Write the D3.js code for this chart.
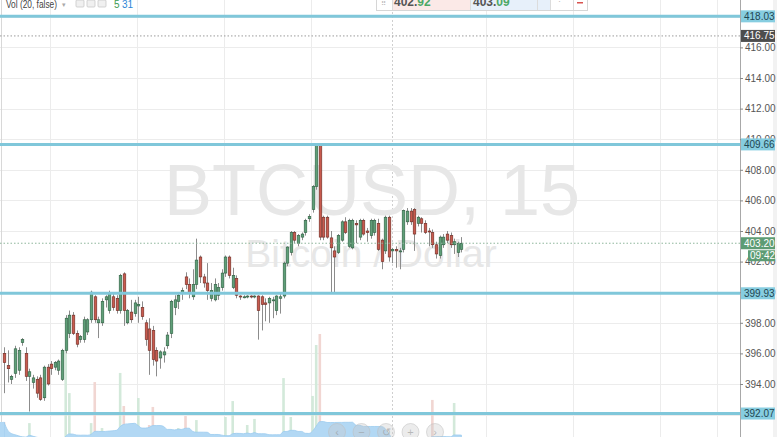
<!DOCTYPE html>
<html><head><meta charset="utf-8">
<script src="https://cdn.jsdelivr.net/npm/d3@7"></script>
<style>
body{margin:0;background:#fff;overflow:hidden}
svg{display:block;font-family:"Liberation Sans",Arial,sans-serif}
</style></head>
<body><svg id="c" width="777" height="437"></svg>
<script>
// ---- data (BTCUSD, 15 min) ----
const opens  = [396.0,395.2,394.3,394.7,394.9,396.7,396.0,394.5,394.1,394.3,394.4,393.1,395.1,395.3,395.1,394.9,394.3,396.2,397.3,398.5,397.3,396.9,396.9,397.4,398.2,399.7,398.0,398.0,399.5,398.8,399.7,399.6,398.8,401.2,398.0,398.7,398.6,399.1,399.0,398.0,397.6,397.5,396.2,395.7,395.9,396.5,397.3,399.0,399.4,399.9,401.0,400.5,399.7,400.5,402.3,401.0,400.6,399.6,399.5,399.8,400.3,401.25,402.3,400.3,400.9,399.75,399.7,399.7,399.75,399.7,399.75,399.7,399.3,399.3,399.5,398.8,399.6,399.75,401.9,402.6,403.9,403.2,403.6,403.9,404.8,405.4,406.9,409.6,404.9,404.9,403.55,402.7,402.6,403.4,404.6,403.0,402.9,404.5,403.6,404.7,404.0,403.7,403.9,404.5,403.4,402.7,404.9,402.7,402.8,402.7,402.8,404.6,405.3,405.4,404.5,404.8,404.5,404.0,403.9,403.1,402.4,403.1,403.8,403.7,403.1,402.6,402.8];
const highs  = [396.4,396.2,394.6,396.5,396.4,397.0,396.4,395.0,394.6,394.5,394.6,395.2,395.3,395.5,395.5,395.6,396.3,398.5,398.8,398.7,397.5,397.2,398.4,398.3,400.1,399.8,398.4,399.6,399.8,400.1,399.9,399.8,401.2,401.3,398.9,399.5,399.5,399.7,399.4,398.2,398.3,397.8,396.4,396.2,396.4,397.4,399.5,399.8,400.0,400.3,401.3,400.9,401.5,403.5,402.4,401.2,401.9,400.6,400.9,400.6,401.5,402.4,402.4,401.6,401.1,399.8,399.8,399.8,399.8,399.8,399.8,399.8,399.6,399.7,399.7,399.8,399.9,402.0,403.0,404.0,404.0,403.8,403.9,404.8,405.1,407.0,409.66,409.66,405.0,405.0,404.0,403.0,403.8,404.7,404.9,404.8,404.8,404.7,404.8,404.8,404.2,404.8,404.8,404.8,403.5,405.0,405.0,402.9,403.0,402.9,405.4,405.5,405.5,405.5,405.0,404.9,404.7,404.2,404.1,403.3,403.7,403.8,404.0,403.9,403.5,403.3,403.6];
const lows   = [393.4,394.1,394.0,394.4,394.6,396.5,394.2,392.2,393.7,393.1,392.9,392.9,393.9,394.6,394.9,394.6,394.2,396.0,397.0,397.2,396.4,396.7,396.7,397.2,398.0,398.0,397.0,397.8,399.0,398.6,398.8,398.6,398.6,397.8,397.9,398.0,398.4,398.0,398.2,396.5,394.6,395.2,394.5,395.0,395.4,396.3,397.0,398.5,398.9,399.5,400.2,399.6,399.5,400.2,400.6,400.3,399.5,399.4,399.4,399.5,400.1,401.0,400.9,400.2,399.6,399.5,399.6,399.6,399.6,399.6,396.9,397.5,398.1,398.0,398.3,398.5,398.6,399.6,401.7,402.4,403.2,403.0,403.4,403.7,404.6,405.2,406.7,403.4,403.4,403.5,399.95,399.95,402.5,403.3,403.8,402.9,402.8,403.2,403.4,403.7,403.3,403.5,403.7,402.7,401.5,402.5,402.0,401.9,401.6,401.5,402.6,404.4,404.4,402.7,404.3,403.9,403.8,403.0,402.9,402.2,402.2,402.9,403.2,402.9,402.5,402.3,402.6];
const closes = [395.4,395.0,394.5,396.3,396.2,396.9,394.5,394.8,394.4,393.4,393.0,395.1,394.0,395.0,395.4,395.5,396.2,398.3,398.5,397.3,396.6,397.1,398.2,398.2,400.0,398.2,398.2,399.4,399.7,399.95,399.0,398.8,401.1,398.8,398.8,398.2,399.3,399.2,398.4,396.9,396.2,395.6,395.5,396.1,396.1,397.2,399.4,399.5,399.8,400.1,400.5,399.95,400.5,402.1,401.0,400.6,400.1,400.1,400.5,400.3,401.25,402.3,401.1,401.1,399.8,399.7,399.7,399.75,399.7,399.75,398.8,399.2,399.2,399.6,399.5,399.75,399.7,401.9,402.95,403.9,403.4,403.7,403.8,404.7,404.95,406.9,409.6,403.6,403.6,403.6,402.9,402.3,403.7,404.6,403.9,404.7,404.7,404.4,404.7,403.8,403.9,404.7,404.7,402.8,402.0,404.9,402.3,402.8,402.7,402.7,405.35,405.3,404.6,403.8,404.9,404.5,403.9,403.95,403.1,402.5,403.6,403.6,403.4,403.1,403.3,403.2,403.2];
const volumes= [51.6,43,42,43,42,41,43,51,40,39,
                39,38,38,37,38,39,40,89.5,66.8,43,
                42,41,43,42,51,72.6,43,48.4,42,43,
                42,43,77.4,60,43,42,43,64.2,42,43,
                50,59.5,43,42,41,42,43,43,48.4,42,
                54.7,43,43,52.6,43,42,42,41,42,43,
                43,54.2,43,62.6,44.7,41,40,50,42,53.2,
                43,43,42,43,42,43,42,74.7,43,54.2,
                43,43,43,43,43,65.3,92.1,97.9,43,43,
                43,43,43,43,43,43,43,42,43,43,
                42,43,43,43,43,43,43,43,42,43,
                43,43,43,43,43,43,42,43,63.2,43,
                43,43,42,42,61.6,43,42];
const priceTicks = [394,396,398,400,402,404,406,408,410,412,414,416];
const levels = [418.03, 409.66, 399.93, 392.07];
const lastPrice = 403.20, lastTime = "09:42";
const dayHigh = 416.75;
const gridIdx = [12.67, 36.67, 60.67, 84.67, 132.67, 156.67, 180.67, 196.4];
const sessionIdx = [107.6];
const bidAsk = [["402.", "92"], ["403.", "09"]];

// ---- scales ----
const W = 777, H = 437, axisX = 740;
const svg = d3.select("#c");
const x = d3.scaleLinear().domain([0, opens.length - 1]).range([4, 461.4]);
const y = d3.scaleLinear().domain([404 - 206/15.3, 404 + 231/15.3]).range([H, 0]);
const yv = d3.scaleLinear().domain([0, 100]).range([520, 330]);
const candles = opens.map((o, i) => ({i, o, h: highs[i], l: lows[i], c: closes[i], v: volumes[i], up: closes[i] >= o}));

svg.append("rect").attr("width", W).attr("height", H).attr("fill", "#fff");

// grid
const g = svg.append("g");
g.selectAll(".hg").data(priceTicks.concat([392, 418])).join("line")
  .attr("x1", 0).attr("x2", axisX).attr("y1", d => Math.round(y(d)) + 0.5).attr("y2", d => Math.round(y(d)) + 0.5)
  .attr("stroke", "#ececec");
g.selectAll(".vg").data(gridIdx).join("line")
  .attr("x1", d => Math.round(x(d)) + 0.5).attr("x2", d => Math.round(x(d)) + 0.5).attr("y1", 0).attr("y2", H)
  .attr("stroke", "#ececec");
g.selectAll(".sg").data(sessionIdx).join("line")
  .attr("x1", d => Math.round(x(d)) - 2.5).attr("x2", d => Math.round(x(d)) - 2.5).attr("y1", 0).attr("y2", H)
  .attr("stroke", "#cfcfcf").attr("stroke-dasharray", "2,2");
svg.append("line").attr("x1", 1.5).attr("x2", 1.5).attr("y1", 0).attr("y2", H).attr("stroke", "#d8d8d8");

// watermark
svg.append("text").attr("x", 372).attr("y", 215).attr("text-anchor", "middle")
  .attr("font-size", 72).attr("fill", "#e7e7e7").text("BTCUSD, 15");
svg.append("text").attr("x", 371).attr("y", 267).attr("text-anchor", "middle")
  .attr("font-size", 39).attr("fill", "#e7e7e7").text("Bitcoin / Dollar");

// volume bars
const bw = 2.6;
svg.append("g").selectAll("rect").data(candles).join("rect")
  .attr("x", d => x(d.i) - bw/2).attr("width", bw)
  .attr("y", d => yv(d.v)).attr("height", d => yv(0) - yv(d.v))
  .attr("fill", d => d.up ? "#d3e9da" : "#f1d6d2");

// volume MA(20) area
const ma = candles.map((d, i) => {
  const w = volumes.slice(Math.max(0, i - 19), i + 1);
  return {i, m: d3.mean(w)};
});
svg.append("path").datum(ma)
  .attr("d", d3.area().x(d => x(d.i)).y0(H + 5).y1(d => yv(d.m)).curve(d3.curveMonotoneX))
  .attr("fill", "#b2d8f4").attr("stroke", "#9ccbef").attr("stroke-width", 0.8);
svg.append("rect").attr("x", 0).attr("width", x(0)).attr("y", yv(ma[0].m)).attr("height", H)
  .attr("fill", "#b2d8f4");

// candles
const cg = svg.append("g");
cg.selectAll("line").data(candles).join("line")
  .attr("x1", d => Math.round(x(d.i)) + 0.5).attr("x2", d => Math.round(x(d.i)) + 0.5)
  .attr("y1", d => y(d.h)).attr("y2", d => y(d.l))
  .attr("stroke", "#8c8c8c").attr("stroke-width", 1);
cg.selectAll("rect").data(candles).join("rect")
  .attr("x", d => Math.round(x(d.i)) + 0.5 - bw/2).attr("width", bw)
  .attr("y", d => y(Math.max(d.o, d.c)))
  .attr("height", d => Math.max(1, Math.abs(y(d.o) - y(d.c))))
  .attr("fill", d => d.up ? "#5f9f78" : "#c85a4e")
  .attr("stroke", d => d.up ? "#2c5e40" : "#6c2a22").attr("stroke-width", 0.6);

// dotted price lines
svg.append("line").attr("x1", 0).attr("x2", axisX).attr("y1", y(dayHigh)).attr("y2", y(dayHigh))
  .attr("stroke", "#9a9a9a").attr("stroke-dasharray", "1.5,2");
svg.append("line").attr("x1", 0).attr("x2", axisX).attr("y1", y(lastPrice)).attr("y2", y(lastPrice))
  .attr("stroke", "#8fb69c").attr("stroke-dasharray", "1.5,2");

// support / resistance levels
svg.append("g").selectAll("line").data(levels).join("line")
  .attr("x1", 0).attr("x2", axisX).attr("y1", d => y(d)).attr("y2", d => y(d))
  .attr("stroke", "#80c7da").attr("stroke-width", 3);

// price axis
const ax = svg.append("g");
ax.append("rect").attr("x", axisX).attr("y", 0).attr("width", W - axisX).attr("height", H).attr("fill", "#fff");
ax.append("line").attr("x1", axisX + 0.5).attr("x2", axisX + 0.5).attr("y1", 0).attr("y2", H).attr("stroke", "#a8a8a8");
ax.append("rect").attr("x", 773).attr("y", 0).attr("width", 4).attr("height", H).attr("fill", "#f2f2f2");
const axis = d3.axisRight(y).tickValues(priceTicks).tickSize(3).tickPadding(2).tickFormat(d3.format(".2f"));
const axG = ax.append("g").attr("transform", `translate(${axisX},0)`).call(axis);
axG.select(".domain").remove();
axG.selectAll(".tick line").attr("stroke", "#888");
axG.selectAll(".tick text").attr("fill", "#555").attr("font-size", 10)
  .attr("font-family", "Liberation Sans, Arial, sans-serif");

function tag(v, label, fill, color, x0) {
  const yy = y(v);
  ax.append("rect").attr("x", x0).attr("y", yy - 6).attr("width", 775 - x0).attr("height", 12).attr("fill", fill);
  ax.append("text").attr("x", x0 + 3).attr("y", yy + 3.5).attr("font-size", 10).attr("fill", color).text(label);
}
levels.forEach(v => tag(v, d3.format(".2f")(v), "#86cde0", "#1f4652", 741));
tag(dayHigh, d3.format(".2f")(dayHigh), "#4d4d4d", "#fff", 741);
tag(lastPrice, d3.format(".2f")(lastPrice), "#5d9c74", "#fff", 741);
ax.append("rect").attr("x", 748).attr("y", y(lastPrice) + 7).attr("width", 27).attr("height", 11).attr("fill", "#5d9c74");
ax.append("text").attr("x", 750).attr("y", y(lastPrice) + 16).attr("font-size", 10).attr("fill", "#fff").text(lastTime);

// header (volume legend)
const hd = svg.append("g").attr("font-size", 10);
hd.append("text").attr("x", 6).attr("y", 8).attr("fill", "#444")
  .attr("textLength", 51).attr("lengthAdjust", "spacingAndGlyphs").text("Vol (20, false)");
hd.append("text").attr("x", 62).attr("y", 7).attr("fill", "#aaa").attr("font-size", 7).text("▾");
[76, 87, 98].forEach(px => hd.append("rect").attr("x", px).attr("y", 0).attr("width", 8).attr("height", 7)
  .attr("rx", 1).attr("fill", "#f0f0f0").attr("stroke", "#c8c8c8").attr("stroke-width", 0.8));
hd.append("text").attr("x", 114).attr("y", 8).attr("fill", "#3d9a4f").text("5");
hd.append("text").attr("x", 122).attr("y", 8).attr("fill", "#2e86d6").text("31");

// buy/sell box
const bx = svg.append("g");
bx.append("rect").attr("x", 376.5).attr("y", -10).attr("width", 211).attr("height", 20.5).attr("fill", "#fff").attr("stroke", "#d6d6d6");
bx.append("rect").attr("x", 392).attr("y", -9).attr("width", 78).attr("height", 19).attr("fill", "#fbe9e7");
bx.append("rect").attr("x", 470).attr("y", -9).attr("width", 80).attr("height", 19).attr("fill", "#e7f0fa");
[392, 470, 537, 550, 573].forEach(px => bx.append("line").attr("x1", px + 0.5).attr("x2", px + 0.5).attr("y1", -9).attr("y2", 10).attr("stroke", "#dcdcdc"));
bx.append("text").attr("x", 381).attr("y", 6).attr("font-size", 7).attr("fill", "#bbb").text("⠿");
[[394, bidAsk[0]], [473, bidAsk[1]]].forEach(([px, p]) => {
  const t = bx.append("text").attr("x", px).attr("y", 6).attr("font-size", 12).attr("font-weight", "bold");
  t.append("tspan").attr("fill", "#555").text(p[0]);
  t.append("tspan").attr("fill", "#4ca866").text(p[1]);
});
bx.append("text").attr("x", 558).attr("y", 4).attr("font-size", 9).attr("fill", "#bbb").text("·");
bx.append("rect").attr("x", 577).attr("y", 2).attr("width", 6).attr("height", 1.5).attr("fill", "#d9534f");

// navigation buttons
const nav = svg.append("g");
["‹", "−", "↺", "+", "›"].forEach((s, k) => {
  const cx = 337 + k * 24.5;
  nav.append("circle").attr("cx", cx).attr("cy", 432).attr("r", 8.5).attr("fill", "rgba(200,200,200,0.35)").attr("stroke", "rgba(190,190,190,0.5)");
  nav.append("text").attr("x", cx).attr("y", 436).attr("text-anchor", "middle").attr("font-size", 11).attr("fill", "rgba(150,150,150,0.6)").text(s);
});
</script></body></html>
